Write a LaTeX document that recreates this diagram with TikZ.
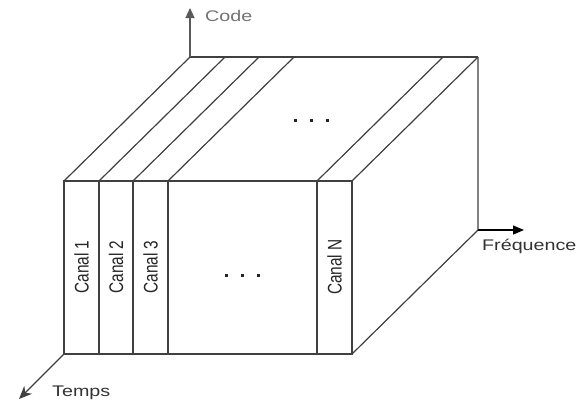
\documentclass[tikz,border=0pt]{standalone}
\usepackage{fontspec}
\setmainfont{Liberation Sans}
\usetikzlibrary{arrows.meta}
\begin{document}
\begin{tikzpicture}[x=1pt,y=-1pt,
  edge/.style={draw=black!75,line width=1.2pt},
  axislabel/.style={inner sep=0pt,anchor=west,font=\fontsize{15.4}{18}\selectfont},
  canal/.style={inner sep=0pt,rotate=90,text=black!85,font=\fontsize{15.4}{18}\selectfont},
  dot/.style={fill=black!85,minimum size=3pt,inner sep=0pt}]
\useasboundingbox (0,0) rectangle (576,410);
\fill[white] (0,0) rectangle (576,410);

% front face corners and strip borders
\coordinate (ftl) at (64,181);
\coordinate (fbl) at (64,354);
\coordinate (ftr) at (352,181);
\coordinate (fbr) at (352,354);
\foreach \n/\x in {a/99,b/133,c/168,d/317}{
  \coordinate (t\n) at (\x,181);
  \coordinate (b\n) at (\x,354);
}
% back corners (depth offset 126,-124)
\coordinate (btl) at (190,57);
\coordinate (btr) at (478,57);
\coordinate (bbr) at (478,230);

% front face
\draw[edge] (ftl) rectangle (fbr);
\foreach \n in {a,b,c,d}{ \draw[edge] (t\n) -- (b\n); }
% top face
\foreach \n in {ftl,ta,tb,tc,td,ftr}{ \draw[edge] (\n) -- ++(126,-124); }
\draw[edge] (btl) -- (btr);
% right face
\draw[edge] (fbr) -- (bbr) -- (btr);

% axes
\coordinate (codetip) at (190,8);
\coordinate (freqtip) at (524,230);
\coordinate (tempstip) at (19,399);
\draw[draw=black!65,line width=1.2pt,-{Triangle[length=10pt,width=9pt]}] (btl) -- (codetip);
\draw[draw=black,line width=1.2pt,-{Triangle[length=11pt,width=9pt]}] (bbr) -- (freqtip);
\draw[draw=black!75,line width=1.2pt,-{Stealth[length=13pt,width=11pt]}] (fbl) -- (tempstip);

\node[axislabel,text=black!55] (code) at (205,16) {\scalebox{1.28}[1]{Code}};
\node[axislabel,text=black!80] (freq) at (482,246) {\scalebox{1.28}[1]{Fréquence}};
\node[axislabel,text=black!80] (temps) at (52,393) {\scalebox{1.28}[1]{Temps}};

% channel labels
\node[canal] (c1) at (81.5,267) {\scalebox{1}[1.28]{Canal 1}};
\node[canal] (c2) at (116,267) {\scalebox{1}[1.28]{Canal 2}};
\node[canal] (c3) at (150.5,267) {\scalebox{1}[1.28]{Canal 3}};
\node[canal] (cN) at (334.5,267) {\scalebox{1}[1.28]{Canal N}};

% ellipses
\foreach \x [count=\i] in {295,311,327}{ \node[dot] (td\i) at (\x,120) {}; }
\foreach \x [count=\i] in {226,242,258}{ \node[dot] (fd\i) at (\x,275) {}; }
\end{tikzpicture}
\end{document}
